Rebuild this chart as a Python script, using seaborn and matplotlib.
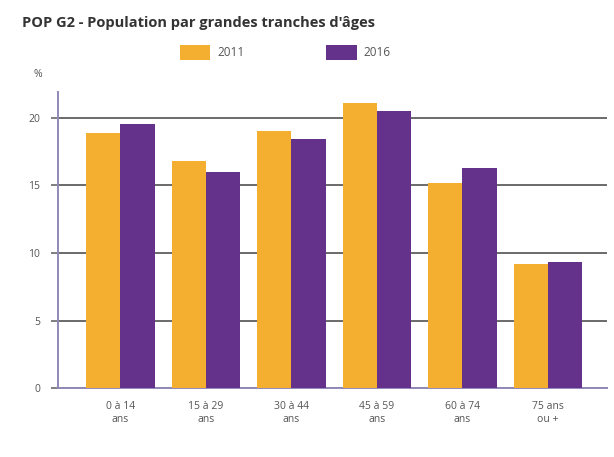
import matplotlib
matplotlib.use("Agg")
import matplotlib.pyplot as plt
import seaborn as sns
import pandas as pd
from matplotlib.patches import Patch

# Age brackets and population shares (%)
categories = ["0 à 14\nans", "15 à 29\nans", "30 à 44\nans", "45 à 59\nans", "60 à 74\nans", "75 ans\nou +"]
share_2011 = [18.9, 16.8, 19.0, 21.1, 15.2, 9.2]
share_2016 = [19.5, 16.0, 18.4, 20.5, 16.3, 9.3]
years = ["2011", "2016"]
y_ticks = [0, 5, 10, 15, 20]

colors = {"2011": "#F4AE30", "2016": "#64318B"}
text_color = "#555555"

df = pd.DataFrame({
    "tranche": categories * 2,
    "annee": [years[0]] * len(categories) + [years[1]] * len(categories),
    "part": share_2011 + share_2016,
})

sns.set_theme(style="white")
plt.rcParams["font.family"] = ["Open Sans", "DejaVu Sans"]

fig = plt.figure(figsize=(6.14, 4.57), dpi=100)
ax = fig.add_axes([0.0945, 0.1503, 0.8941, 0.6484])

sns.barplot(data=df, x="tranche", y="part", hue="annee", palette=colors,
            order=categories, hue_order=years, width=0.8, saturation=1,
            edgecolor="none", linewidth=0, ax=ax, legend=False, zorder=3)

ax.set_xlim(-0.73, 5.69)
ax.set_ylim(0, 21.9)
ax.set_yticks(y_ticks)
ax.set_yticklabels([str(v) for v in y_ticks])
ax.yaxis.grid(True, color="#6a6a6a", linewidth=1.4, zorder=0)
ax.set_axisbelow(True)
ax.set_xlabel("")
ax.set_ylabel("")

for side in ["top", "right"]:
    ax.spines[side].set_visible(False)
ax.spines["left"].set_color("#9088b8")
ax.spines["left"].set_linewidth(1.4)
ax.spines["bottom"].set_color("#9088b8")
ax.spines["bottom"].set_linewidth(1.4)

ax.tick_params(axis="y", length=5, width=1.2, color="#6a6a6a", labelsize=7.5,
               labelcolor=text_color, pad=8, left=True)
ax.tick_params(axis="x", length=0, labelsize=7.5, labelcolor=text_color, pad=9)
for lab in ax.get_xticklabels():
    lab.set_linespacing(1.3)

fig.text(0.036, 0.95, "POP G2 - Population par grandes tranches d'âges",
         fontsize=10.5, fontweight="bold", color="#333333", va="center", ha="left")
fig.text(0.055, 0.838, "%", fontsize=7.5, color=text_color, va="center", ha="left")

handles = [Patch(facecolor=colors[y], edgecolor="none") for y in years]
fig.legend(handles, years, loc="center left", bbox_to_anchor=(0.283, 0.886),
           ncol=2, frameon=False, fontsize=8.5, handlelength=2.6, handleheight=1.6,
           handletextpad=0.6, columnspacing=6.9, borderpad=0, labelcolor=text_color)

fig.savefig("out.png", dpi=100)
